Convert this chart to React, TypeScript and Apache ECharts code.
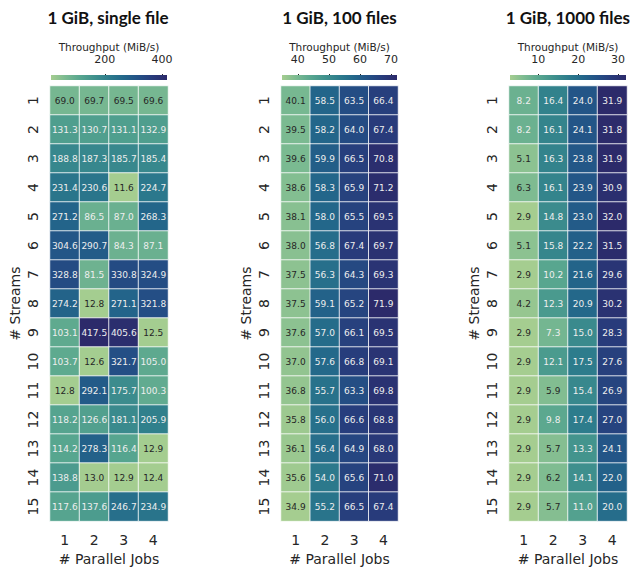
import React, { useEffect, useRef } from "react";
import * as echarts from "echarts";

const jobs = ["1", "2", "3", "4"];
const streams = ["1", "2", "3", "4", "5", "6", "7", "8", "9", "10", "11", "12", "13", "14", "15"];
const titles = ["1 GiB, single file", "1 GiB, 100 files", "1 GiB, 1000 files"];

const singleFile = [
  [69.0, 69.7, 69.5, 69.6],
  [131.3, 130.7, 131.1, 132.9],
  [188.8, 187.3, 185.7, 185.4],
  [231.4, 230.6, 11.6, 224.7],
  [271.2, 86.5, 87.0, 268.3],
  [304.6, 290.7, 84.3, 87.1],
  [328.8, 81.5, 330.8, 324.9],
  [274.2, 12.8, 271.1, 321.8],
  [103.1, 417.5, 405.6, 12.5],
  [103.7, 12.6, 321.7, 105.0],
  [12.8, 292.1, 175.7, 100.3],
  [118.2, 126.6, 181.1, 205.9],
  [114.2, 278.3, 116.4, 12.9],
  [138.8, 13.0, 12.9, 12.4],
  [117.6, 137.6, 246.7, 234.9],
];

const files100 = [
  [40.1, 58.5, 63.5, 66.4],
  [39.5, 58.2, 64.0, 67.4],
  [39.6, 59.9, 66.5, 70.8],
  [38.6, 58.3, 65.9, 71.2],
  [38.1, 58.0, 65.5, 69.5],
  [38.0, 56.8, 67.4, 69.7],
  [37.5, 56.3, 64.3, 69.3],
  [37.5, 59.1, 65.2, 71.9],
  [37.6, 57.0, 66.1, 69.5],
  [37.0, 57.6, 66.8, 69.1],
  [36.8, 55.7, 63.3, 69.8],
  [35.8, 56.0, 66.6, 68.8],
  [36.1, 56.4, 64.9, 68.0],
  [35.6, 54.0, 65.6, 71.0],
  [34.9, 55.2, 66.5, 67.4],
];

const files1000 = [
  [8.2, 16.4, 24.0, 31.9],
  [8.2, 16.1, 24.1, 31.8],
  [5.1, 16.3, 23.8, 31.9],
  [6.3, 16.1, 23.9, 30.9],
  [2.9, 14.8, 23.0, 32.0],
  [5.1, 15.8, 22.2, 31.5],
  [2.9, 10.2, 21.6, 29.6],
  [4.2, 12.3, 20.9, 30.2],
  [2.9, 7.3, 15.0, 28.3],
  [2.9, 12.1, 17.5, 27.6],
  [2.9, 5.9, 15.4, 26.9],
  [2.9, 9.8, 17.4, 27.0],
  [2.9, 5.7, 13.3, 24.1],
  [2.9, 6.2, 14.1, 22.0],
  [2.9, 5.7, 11.0, 20.0],
];

const colorbarTicks = [
  [200, 400],
  [40, 50, 60, 70],
  [10, 20, 30],
];

const panels = [singleFile, files100, files1000];

const crest = ["#a5cd90", "#7bba91", "#58a68f", "#40918d", "#2d7c8c", "#23678a", "#235186", "#283b7b", "#2c2a6a"];

const FONT = "DejaVu Sans";

export default function App() {
  const ref = useRef<HTMLDivElement>(null);
  useEffect(() => {
    if (!ref.current) return;
    const chart = echarts.init(ref.current, null, { renderer: "svg" });

    const layout = [
      { left: 50, width: 118, tx: 108, align: "center" },
      { left: 281, width: 117, tx: 339.5, align: "center" },
      { left: 509, width: 118, tx: 630, align: "right" },
    ];

    const grids: any[] = [];
    const xAxes: any[] = [];
    const yAxes: any[] = [];
    const series: any[] = [];
    const visualMaps: any[] = [];
    const graphics: any[] = [];

    panels.forEach((rows, p) => {
      const flat = rows.flat();
      const mn = Math.min(...flat);
      const mx = Math.max(...flat);
      const L = layout[p];
      grids.push({ left: L.left, width: L.width, top: 86, height: 442 });
      xAxes.push({
        type: "category",
        gridIndex: grids.length - 1,
        data: jobs,
        position: "bottom",
        axisLine: { show: false },
        axisTick: { show: false },
        splitLine: { show: false },
        axisLabel: { fontFamily: FONT, fontSize: 14, color: "#262626", margin: 12 },
        name: "# Parallel Jobs",
        nameLocation: "middle",
        nameGap: 27,
        nameTextStyle: { fontFamily: FONT, fontSize: 14, color: "#262626" },
      });
      yAxes.push({
        type: "category",
        gridIndex: grids.length - 1,
        data: streams,
        inverse: true,
        axisLine: { show: false },
        axisTick: { show: false },
        splitLine: { show: false },
        axisLabel: { fontFamily: FONT, fontSize: 14, color: "#262626", rotate: 90, margin: 10 },
        name: "# Streams",
        nameLocation: "middle",
        nameGap: 28,
        nameRotate: 90,
        nameTextStyle: { fontFamily: FONT, fontSize: 14, color: "#262626" },
      });
      const data: any[] = [];
      rows.forEach((r, yi) =>
        r.forEach((v, xi) => {
          const norm = (v - mn) / (mx - mn);
          data.push({ value: [xi, yi, v], label: { color: norm < 0.147 ? "#262626" : "#eeeeee" } });
        })
      );
      const hmIndex = series.length;
      series.push({
        type: "heatmap",
        xAxisIndex: xAxes.length - 1,
        yAxisIndex: yAxes.length - 1,
        data,
        label: {
          show: true,
          fontFamily: FONT,
          fontSize: 9,
          formatter: (pp: any) => pp.value[2].toFixed(1),
        },
        itemStyle: { borderColor: "#ffffff", borderWidth: 0.8 },
        emphasis: { disabled: true },
      });
      visualMaps.push({
        type: "continuous",
        show: false,
        min: mn,
        max: mx,
        dimension: 2,
        seriesIndex: hmIndex,
        inRange: { color: crest },
      });

      grids.push({ left: L.left + 1, width: L.width - 2, top: 75, height: 5 });
      xAxes.push({
        type: "value",
        gridIndex: grids.length - 1,
        min: mn,
        max: mx,
        position: "top",
        axisLine: { show: false },
        splitLine: { show: false },
        axisTick: {
          show: true,
          customValues: colorbarTicks[p],
          length: 6,
          lineStyle: { color: "#262626", width: 1 },
        },
        axisLabel: {
          customValues: colorbarTicks[p],
          fontFamily: FONT,
          fontSize: 11,
          color: "#262626",
          margin: 10,
        },
        name: "Throughput (MiB/s)",
        nameLocation: "middle",
        nameGap: 23,
        nameTextStyle: { fontFamily: FONT, fontSize: 10.5, color: "#262626" },
      });
      yAxes.push({ type: "value", gridIndex: grids.length - 1, min: 0, max: 1, show: false });
      series.push({
        type: "custom",
        xAxisIndex: xAxes.length - 1,
        yAxisIndex: yAxes.length - 1,
        data: [[mn, 0]],
        silent: true,
        renderItem: (params: any) => {
          const cs = params.coordSys;
          return {
            type: "rect",
            shape: { x: cs.x, y: cs.y, width: cs.width, height: cs.height },
            style: {
              fill: new echarts.graphic.LinearGradient(
                0,
                0,
                1,
                0,
                crest.map((c, i) => ({ offset: i / (crest.length - 1), color: c }))
              ),
            },
          };
        },
      });

      graphics.push({
        type: "text",
        x: L.tx,
        y: 17,
        style: {
          text: titles[p],
          textAlign: L.align,
          textVerticalAlign: "middle",
          font: "bold 17px Lato",
          fill: "#111111",
        },
      });
    });

    chart.setOption({
      animation: false,
      backgroundColor: "#ffffff",
      graphic: graphics,
      grid: grids,
      xAxis: xAxes,
      yAxis: yAxes,
      visualMap: visualMaps,
      series,
    });
    return () => chart.dispose();
  }, []);
  return <div ref={ref} style={{ position: "absolute", left: 0, top: 0, width: 631, height: 571 }} />;
}
